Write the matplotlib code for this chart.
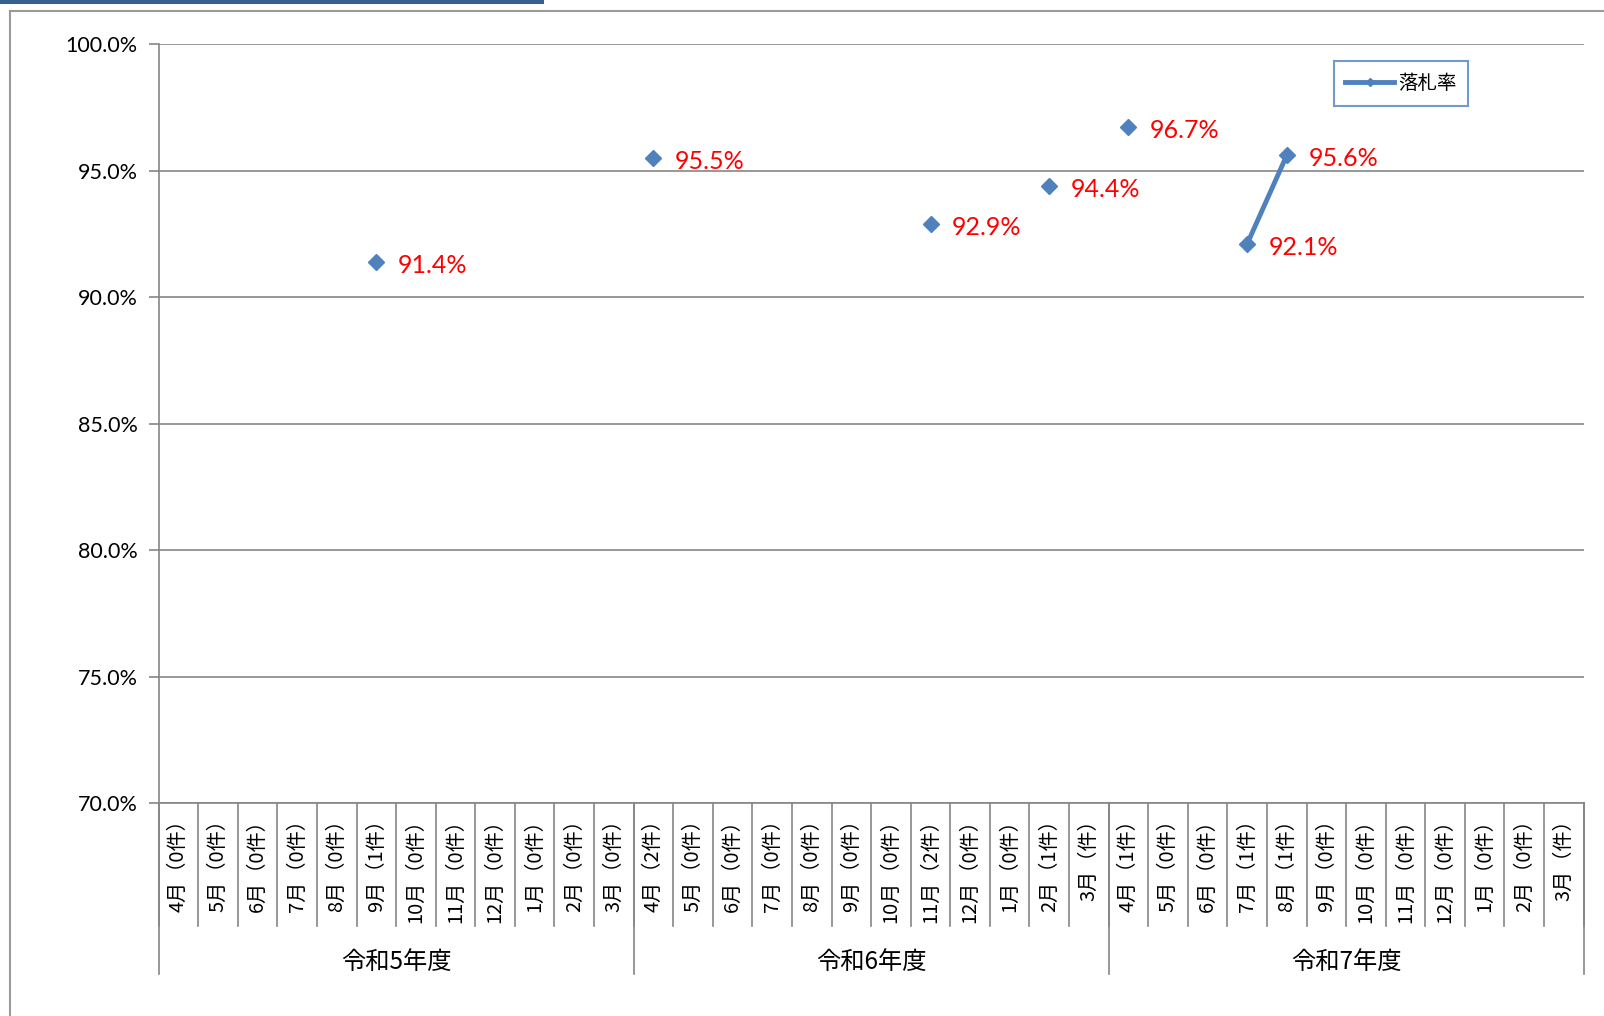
import numpy as np
import matplotlib.pyplot as plt
from matplotlib.lines import Line2D
from matplotlib.patches import Rectangle
from matplotlib.transforms import Bbox, TransformedBbox

plt.rcParams['font.family'] = ['Noto Sans CJK JP', 'DejaVu Sans']

# fiscal years and months (April -> March)
fiscal_years = ['令和5年度', '令和6年度', '令和7年度']
months = ['4月', '5月', '6月', '7月', '8月', '9月', '10月', '11月', '12月', '1月', '2月', '3月']

# number of contracts per month ('' = not yet known)
counts_r5 = ['0', '0', '0', '0', '0', '1', '0', '0', '0', '0', '0', '0']
counts_r6 = ['2', '0', '0', '0', '0', '0', '0', '2', '0', '0', '1', '']
counts_r7 = ['1', '0', '0', '1', '1', '0', '0', '0', '0', '0', '0', '']

# winning bid rate (%) per month, nan = no contract
nan = np.nan
rate_r5 = [nan, nan, nan, nan, nan, 91.4, nan, nan, nan, nan, nan, nan]
rate_r6 = [95.5, nan, nan, nan, nan, nan, nan, 92.9, nan, nan, 94.4, nan]
rate_r7 = [96.7, nan, nan, 92.1, 95.6, nan, nan, nan, nan, nan, nan, nan]

counts = counts_r5 + counts_r6 + counts_r7
rates = np.array(rate_r5 + rate_r6 + rate_r7)
labels = [f"{m}（{c}件）" for m, c in zip(months * 3, counts)]
x = np.arange(len(labels))

blue = '#4F81BD'
gray = '#868686'

fig = plt.figure(figsize=(16.04, 10.16), dpi=100)
ax = fig.add_axes([0.0989, 0.2096, 0.8884, 0.7471])

ax.plot(x, rates, color=blue, lw=3.5, marker='D', ms=8.5, mec=blue, mfc=blue)
for xi, v in zip(x, rates):
    if not np.isnan(v):
        ax.annotate(f"{v:.1f}%", (xi, v), xytext=(15.5, -2.5), textcoords='offset points',
                    ha='left', va='center', color='red', fontsize=18, family='Lato')

ax.set_xlim(-0.5, len(labels) - 0.5)
ax.set_ylim(70, 100)
ax.set_yticks(np.arange(70, 100.1, 5))
ax.set_yticklabels([f"{v:.1f}%" for v in np.arange(70, 100.1, 5)], family='Lato', fontsize=15.5)
ax.tick_params(axis='y', length=7, color=gray, width=1.2, pad=8)
ax.yaxis.grid(True, color=gray, lw=1.2)
ax.set_axisbelow(True)

ax.set_xticks(x)
ax.set_xticklabels(labels, rotation=90, fontsize=14.5, va='top', ha='center')
ax.tick_params(axis='x', length=0, pad=4.5)

for s in ['top', 'right']:
    ax.spines[s].set_visible(False)
for s in ['left', 'bottom']:
    ax.spines[s].set_color(gray)
    ax.spines[s].set_linewidth(1.2)

# multi-level category separators
tr = ax.get_xaxis_transform()
for b in np.arange(-0.5, len(labels), 1):
    ax.plot([b, b], [0, -0.162], transform=tr, clip_on=False, color=gray, lw=1.2)
for k, fy in enumerate(fiscal_years):
    left = k * 12 - 0.5
    ax.plot([left, left], [0, -0.225], transform=tr, clip_on=False, color=gray, lw=1.2)
    ax.text(left + 6, -0.209, fy, transform=tr, ha='center', va='center', fontsize=17.5)
ax.plot([len(labels) - 0.5] * 2, [0, -0.225], transform=tr, clip_on=False, color=gray, lw=1.2)

# month labels are cut at the bottom of their cells, like the original
cell_box = TransformedBbox(Bbox([[-0.5, -0.162], [len(labels) - 0.5, 0]]), tr)
for lbl in ax.get_xticklabels():
    lbl.set_clip_box(cell_box)
    lbl.set_clip_on(True)

handle = Line2D([], [], color=blue, lw=3.5, marker='D', ms=4.5)
leg = ax.legend([handle], ['落札率'], loc='upper left', bbox_to_anchor=(0.8315, 0.9396),
                bbox_transform=fig.transFigure, fancybox=False, fontsize=14,
                handlelength=2.5, borderpad=0.6, handletextpad=0.2, borderaxespad=0)
leg.get_frame().set_edgecolor(blue)
leg.get_frame().set_linewidth(1.5)

# outer chart frame and the tab bar at top-left
fig.add_artist(Line2D([10 / 1604, 10 / 1604], [0, 1 - 10.5 / 1016], transform=fig.transFigure,
                      color='#9a9a9a', lw=1.5))
fig.add_artist(Line2D([10 / 1604, 1], [1 - 10.5 / 1016] * 2, transform=fig.transFigure,
                      color='#9a9a9a', lw=1.5))
fig.add_artist(Rectangle((0, 1 - 4 / 1016), 544 / 1604, 4 / 1016, transform=fig.transFigure,
                         color='#35608f', lw=0))

fig.savefig('out.png', dpi=100)
